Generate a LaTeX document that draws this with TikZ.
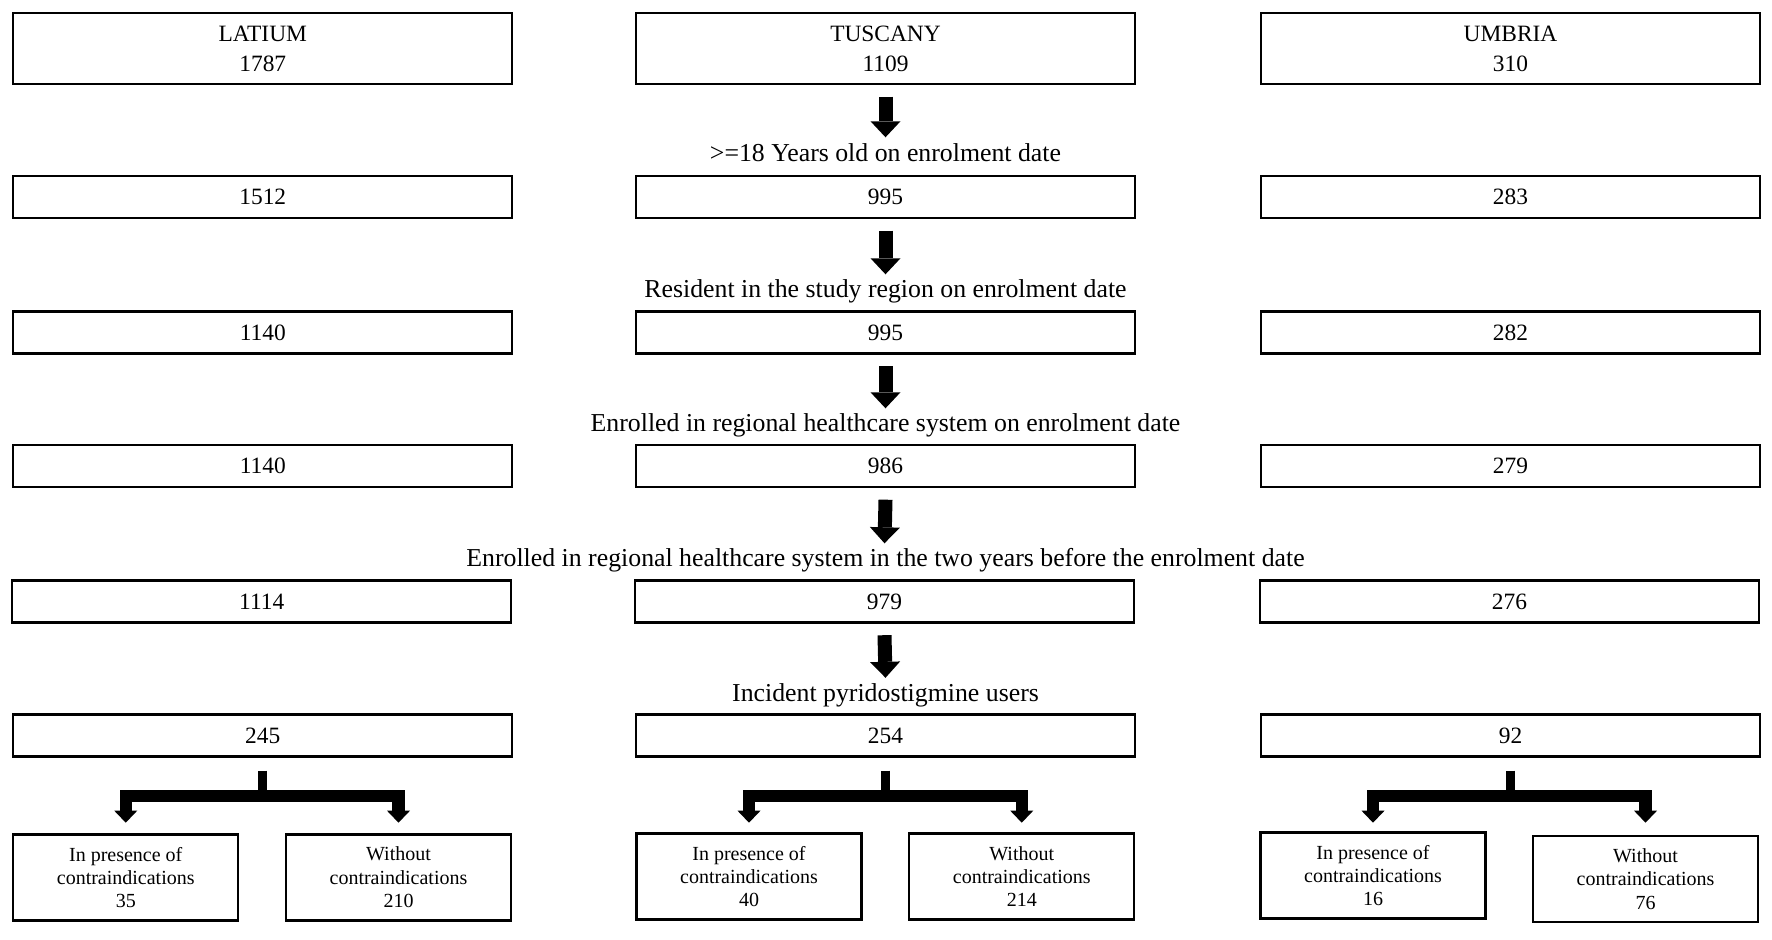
\documentclass[tikz,border=0pt]{standalone}
\usepackage{fontspec}
\setmainfont{Liberation Serif}
\usetikzlibrary{arrows.meta,calc}
\begin{document}
\begin{tikzpicture}[x=0.5pt,y=-0.5pt,
  colbox/.style={draw,line width=1.2pt,minimum width=249.5pt,inner sep=0pt,align=center,font=\fontsize{11.7}{15}\selectfont},
  tallbox/.style={minimum height=35.5pt},
  flatbox/.style={minimum height=21pt},
  subbox/.style={draw,line width=1.2pt,minimum width=112.5pt,minimum height=43pt,inner sep=0pt,align=center,font=\fontsize{10}{11.7}\selectfont},
  lab/.style={anchor=base,inner sep=0pt,font=\fontsize{12.9}{15}\selectfont},
  bigarr/.style={line width=7pt,-{Triangle[width=15pt,length=8pt,line width=0pt]}},
  forkstem/.style={line width=4.5pt},
  forkbar/.style={line width=6.25pt,line join=miter,{Triangle[width=11.5pt,length=6pt,line width=0pt]}-{Triangle[width=11.5pt,length=6pt,line width=0pt]}}
]
\useasboundingbox (0,0) rectangle (1772,940);
\fill[white] (0,0) rectangle (1772,940);

% row 1
\node[colbox,tallbox] (r1a) at (262.75,48.5) {LATIUM\\1787};
\node[colbox,tallbox] (r1b) at (885.5,48.5) {TUSCANY\\1109};
\node[colbox,tallbox] (r1c) at (1510.5,48.5) {UMBRIA\\310};
% row 2
\node[colbox,flatbox] (r2a) at (262.75,197) {1512};
\node[colbox,flatbox] (r2b) at (885.5,197) {995};
\node[colbox,flatbox] (r2c) at (1510.5,197) {283};
% row 3
\node[colbox,flatbox] (r3a) at (262.75,332.5) {1140};
\node[colbox,flatbox] (r3b) at (885.5,332.5) {995};
\node[colbox,flatbox] (r3c) at (1510.5,332.5) {282};
% row 4
\node[colbox,flatbox] (r4a) at (262.75,466) {1140};
\node[colbox,flatbox] (r4b) at (885.5,466) {986};
\node[colbox,flatbox] (r4c) at (1510.5,466) {279};
% row 5
\node[colbox,flatbox] (r5a) at (261.75,601.5) {1114};
\node[colbox,flatbox] (r5b) at (884.5,601.5) {979};
\node[colbox,flatbox] (r5c) at (1509.5,601.5) {276};
% row 6
\node[colbox,flatbox] (r6a) at (262.75,735.5) {245};
\node[colbox,flatbox] (r6b) at (885.5,735.5) {254};
\node[colbox,flatbox] (r6c) at (1510.5,735.5) {92};

% labels
\node[lab] (l1) at (885.5,161.5) {>=18 Years old on enrolment date};
\node[lab] (l2) at (885.5,298) {Resident in the study region on enrolment date};
\node[lab] (l3) at (885.5,432) {Enrolled in regional healthcare system on enrolment date};
\node[lab] (l4) at (885.5,566.5) {Enrolled in regional healthcare system in the two years before the enrolment date};
\node[lab] (l5) at (885.5,701) {Incident pyridostigmine users};

% down arrows
\draw[bigarr] ($(r1b.south)+(0,11.5)$) -- ($(r2b.north)+(0,-37.5)$);
\draw[bigarr] ($(r2b.south)+(0,11.5)$) -- ($(r3b.north)+(0,-36)$);
\draw[bigarr] ($(r3b.south)+(0,11.5)$) -- ($(r4b.north)+(0,-35.5)$);
\draw[bigarr] ($(r4b.south)+(0,11.5)$) -- ($(r5b.north)+(0,-36)$);
\draw[bigarr] ($(r5b.south)+(0,11.5)$) -- ($(r6b.north)+(0,-35.5)$);

% sub boxes
\node[subbox] (sa1) at (125.75,877.5) {In presence of\\contraindications\\35};
\node[subbox] (sa2) at (398.5,877.5) {Without\\contraindications\\210};
\node[subbox] (sb1) at (749,876.5) {In presence of\\contraindications\\40};
\node[subbox] (sb2) at (1021.75,876.5) {Without\\contraindications\\214};
\node[subbox] (sc1) at (1373,875.5) {In presence of\\contraindications\\16};
\node[subbox] (sc2) at (1645.5,879) {Without\\contraindications\\76};

% forks
\coordinate (ja) at ($(r6a.south)+(0,38.5)$);
\coordinate (jb) at ($(r6b.south)+(0,38.5)$);
\coordinate (jc) at ($(r6c.south)+(0,38.5)$);
\draw[forkstem] ($(r6a.south)+(0,13)$) -- (ja);
\draw[forkstem] ($(r6b.south)+(0,13)$) -- (jb);
\draw[forkstem] ($(r6c.south)+(0,13)$) -- (jc);
\draw[forkbar] ($(sa1.north |- ja)+(0,26.5)$) -- (sa1.north |- ja) -- (sa2.north |- ja) -- ($(sa2.north |- ja)+(0,26.5)$);
\draw[forkbar] ($(sb1.north |- jb)+(0,26.5)$) -- (sb1.north |- jb) -- (sb2.north |- jb) -- ($(sb2.north |- jb)+(0,26.5)$);
\draw[forkbar] ($(sc1.north |- jc)+(0,26.5)$) -- (sc1.north |- jc) -- (sc2.north |- jc) -- ($(sc2.north |- jc)+(0,26.5)$);
\end{tikzpicture}
\end{document}
